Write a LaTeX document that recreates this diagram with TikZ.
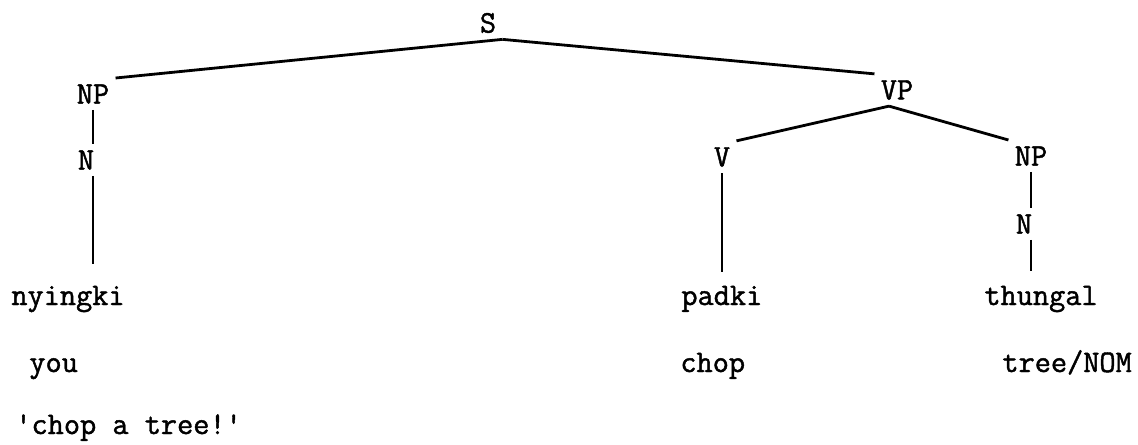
\documentclass[tikz,border=0pt]{standalone}
\usepackage{fontspec}

\newfontfamily\machinefont[FakeBold=1.4]{Latin Modern Mono}
\newcommand{\machine}{\fontsize{15.7}{18}\selectfont\machinefont}
\tikzset{
	cat/.style={font=\machine, inner sep=3pt},
	mot/.style={font=\machine, inner sep=0pt, anchor=base west},
	branche/.style={line width=1.4pt},
}

\begin{document}
\begin{tikzpicture}[x=0.5pt, y=-0.5pt]
				\useasboundingbox (0,0) rectangle (1138,444);
				% categories
				\node[cat] (S) at (488,23) {S};
				\node[cat] (NPa) at (93,94) {NP};
				\node[cat] (Na) at (86,160) {N};
				\node[cat] (VP) at (897,90) {VP};
				\node[cat] (V) at (722,157) {V};
				\node[cat] (NPb) at (1031,156) {NP};
				\node[cat] (Nb) at (1024,224) {N};
				% mots
				\node[mot] (nyingki) at (11,305) {nyingki};
				\node[mot] (padki) at (681,305) {padki};
				\node[mot] (thungal) at (984,305) {thungal};
				% gloses
				\node[mot] (you) at (29,372) {you};
				\node[mot] (chop) at (680,372) {chop};
				\node[mot] (tree) at (1002,372) {tree/NOM};
				\node[mot] (trad) at (15,434) {\textquotesingle chop a tree!\textquotesingle};
				% branches
				\draw[branche] (S.south east) -- (NPa.north east);
				\draw[branche] (S.south east) -- (VP.north west);
				\draw[branche] ([xshift=-4pt]VP.south) -- (V.north east);
				\draw[branche] ([xshift=-4pt]VP.south) -- (NPb.north west);
				\draw[branche] (NPa.south) -- (NPa.south |- Na.north);
				\draw[branche, shorten >=10.5pt] (Na.south -| NPa.south) -- (NPa.south |- nyingki.north);
				\draw[branche, shorten >=6.5pt] (V.south) -- (V.south |- padki.north);
				\draw[branche] (NPb.south) -- (NPb.south |- Nb.north);
				\draw[branche, shorten >=7pt] (Nb.south -| NPb.south) -- (NPb.south |- thungal.north);
		\end{tikzpicture}
\end{document}
